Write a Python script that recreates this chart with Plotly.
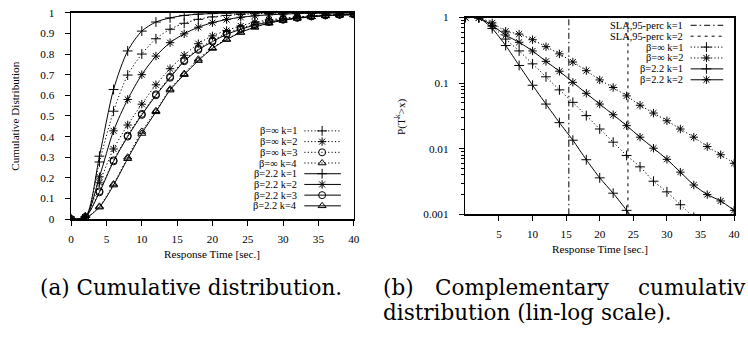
import plotly.graph_objects as go

# Window / figure size (the page's default body margin is removed below).
OX, OY = 0, 0
WIN_W, WIN_H = 748, 338
W, H = WIN_W - OX, WIN_H - OY

# ---------------- data ----------------
t = [0, 2, 4, 6, 8, 10, 12, 14, 16, 18, 20, 22, 24, 26, 28, 30, 32, 34, 36, 38, 40]

# (a) cumulative distribution
cdf_inf_k1 = [0, 0.01, 0.277, 0.523, 0.698, 0.80, 0.874, 0.92, 0.949, 0.968, 0.98, 0.987, 0.992, 0.995, 0.997, 0.998, 0.999, 0.999, 1.0, 1.0, 1.0]
cdf_inf_k2 = [0, 0.01, 0.176, 0.34, 0.456, 0.557, 0.651, 0.729, 0.794, 0.85, 0.888, 0.914, 0.936, 0.954, 0.965, 0.973, 0.98, 0.985, 0.989, 0.992, 0.994]
cdf_inf_k3 = [0, 0.01, 0.135, 0.285, 0.405, 0.51, 0.605, 0.69, 0.77, 0.825, 0.865, 0.90, 0.925, 0.945, 0.96, 0.97, 0.978, 0.984, 0.988, 0.991, 0.993]
cdf_inf_k4 = [0, 0.005, 0.062, 0.17, 0.30, 0.425, 0.525, 0.63, 0.705, 0.775, 0.83, 0.872, 0.905, 0.93, 0.95, 0.963, 0.973, 0.98, 0.985, 0.988, 0.99]
cdf_b22_k1 = [0, 0.01, 0.305, 0.628, 0.815, 0.911, 0.955, 0.975, 0.987, 0.993, 0.996, 0.998, 0.999, 1.0, 1.0, 1.0, 1.0, 1.0, 1.0, 1.0, 1.0]
cdf_b22_k2 = [0, 0.01, 0.205, 0.428, 0.58, 0.70, 0.79, 0.855, 0.898, 0.93, 0.952, 0.967, 0.978, 0.985, 0.99, 0.993, 0.996, 0.997, 0.998, 0.999, 0.999]
cdf_b22_k3 = [0, 0.01, 0.13, 0.28, 0.40, 0.505, 0.60, 0.685, 0.765, 0.82, 0.86, 0.895, 0.92, 0.94, 0.955, 0.966, 0.975, 0.982, 0.987, 0.99, 0.992]
cdf_b22_k4 = [0, 0.005, 0.058, 0.165, 0.293, 0.415, 0.52, 0.625, 0.70, 0.768, 0.827, 0.87, 0.905, 0.93, 0.95, 0.963, 0.973, 0.98, 0.985, 0.988, 0.99]

# (b) complementary cumulative distribution (log scale)
ccdf_inf_k1 = [1.0, 0.99, 0.74, 0.47, 0.31, 0.197, 0.125, 0.079, 0.051, 0.032, 0.020, 0.0126, 0.0079, 0.0053, 0.0032, 0.0022, 0.0014, 0.0009]
ccdf_inf_k2 = [1.0, 0.99, 0.83, 0.62, 0.56, 0.46, 0.36, 0.28, 0.21, 0.155, 0.112, 0.086, 0.064, 0.046, 0.035, 0.0267, 0.020, 0.015, 0.0108, 0.0081, 0.006]
ccdf_b22_k1 = [1.0, 0.99, 0.68, 0.375, 0.186, 0.093, 0.048, 0.025, 0.0135, 0.0068, 0.0036, 0.0021, 0.00115, 0.0006]
ccdf_b22_k2 = [1.0, 0.99, 0.76, 0.54, 0.42, 0.31, 0.215, 0.152, 0.103, 0.070, 0.048, 0.033, 0.0225, 0.015, 0.0102, 0.0069, 0.0044, 0.0028, 0.0020, 0.0016, 0.00115]

sla_k1 = 15.4
sla_k2 = 24.2

left_xticks = [0, 5, 10, 15, 20, 25, 30, 35, 40]
left_yticks = [0, 0.1, 0.2, 0.3, 0.4, 0.5, 0.6, 0.7, 0.8, 0.9, 1]
left_yticktext = ["0", "0.1", "0.2", "0.3", "0.4", "0.5", "0.6", "0.7", "0.8", "0.9", "1"]
right_xticks = [5, 10, 15, 20, 25, 30, 35, 40]
right_yticks = [0.001, 0.01, 0.1, 1]
right_yticktext = ["0.001", "0.01", "0.1", "1"]

# ---------------- styling ----------------
SERIF = "Liberation Serif"
CAP = "DejaVu Serif"
FS = 11.2
KFS = 10.4
CFS = 21.5
DOT = "1.2px,2.2px"
SYM = {"+": "cross-thin-open", "*": "asterisk-open", "o": "circle-open", "^": "triangle-up-open"}

left_series = [
    ("β=∞ k=1", cdf_inf_k1, DOT, "+"),
    ("β=∞ k=2", cdf_inf_k2, DOT, "*"),
    ("β=∞ k=3", cdf_inf_k3, DOT, "o"),
    ("β=∞ k=4", cdf_inf_k4, DOT, "^"),
    ("β=2.2 k=1", cdf_b22_k1, "solid", "+"),
    ("β=2.2 k=2", cdf_b22_k2, "solid", "*"),
    ("β=2.2 k=3", cdf_b22_k3, "solid", "o"),
    ("β=2.2 k=4", cdf_b22_k4, "solid", "^"),
]
right_series = [
    ("β=∞ k=1", ccdf_inf_k1, DOT, "+"),
    ("β=∞ k=2", ccdf_inf_k2, DOT, "*"),
    ("β=2.2 k=1", ccdf_b22_k1, "solid", "+"),
    ("β=2.2 k=2", ccdf_b22_k2, "solid", "*"),
]
SLA1_DASH = "6px,3px,1.5px,3px"
SLA2_DASH = "3px,4px"


def clamp(v):
    return min(1.0, max(0.0, v))


def px(x):
    return (x - OX) / W


def py(y):
    return 1 - (y - OY) / H


def mk(sym):
    return dict(symbol=SYM[sym], size=7, color="black", line=dict(width=1, color="black"))


fig = go.Figure()

for name, vals, dash, sym in left_series:
    fig.add_trace(go.Scatter(
        x=t[:len(vals)], y=vals, mode="lines+markers", name=name,
        line=dict(color="black", width=1, dash=dash, shape="spline", smoothing=0.8),
        marker=mk(sym), xaxis="x", yaxis="y", showlegend=False))

fig.add_trace(go.Scatter(x=[sla_k1, sla_k1], y=[0.001, 1], mode="lines",
                         line=dict(color="black", width=1, dash=SLA1_DASH),
                         xaxis="x2", yaxis="y2", showlegend=False))
fig.add_trace(go.Scatter(x=[sla_k2, sla_k2], y=[0.001, 1], mode="lines",
                         line=dict(color="black", width=1, dash=SLA2_DASH),
                         xaxis="x2", yaxis="y2", showlegend=False))

for name, vals, dash, sym in right_series:
    fig.add_trace(go.Scatter(
        x=t[:len(vals)], y=vals, mode="lines+markers", name=name,
        line=dict(color="black", width=1, dash=dash, shape="spline", smoothing=0.6),
        marker=mk(sym), xaxis="x2", yaxis="y2", showlegend=False))

# ---------------- hand-drawn keys (gnuplot style: text, then sample) ----------------
annotations = []


def key_entry(text, ycen, xtext, x0, x1, xm, dash, sym):
    fig.add_trace(go.Scatter(x=[x0, x1], y=[ycen, ycen], mode="lines",
                             line=dict(color="black", width=1, dash=dash),
                             xaxis="x3", yaxis="y3", showlegend=False, hoverinfo="skip"))
    if sym is not None:
        fig.add_trace(go.Scatter(x=[xm], y=[ycen], mode="markers", marker=mk(sym),
                                 xaxis="x3", yaxis="y3", showlegend=False, hoverinfo="skip"))
    annotations.append(dict(text=text, x=px(xtext), y=py(ycen), xref="paper", yref="paper",
                            xanchor="right", yanchor="middle", showarrow=False,
                            font=dict(family=SERIF, size=KFS, color="black")))


for i, (name, vals, dash, sym) in enumerate(left_series):
    key_entry(name, 129.5 + i * 11.1, 300, 305, 342, 323, dash, sym)

right_keys = [("SLA,95-perc k=1", SLA1_DASH, None), ("SLA,95-perc k=2", SLA2_DASH, None)] + \
             [(n, d, s) for n, v, d, s in right_series]
for i, (name, dash, sym) in enumerate(right_keys):
    key_entry(name, 20 + i * 11.3, 690, 696, 729, 712, dash, sym)


def label(text, x, y, size=FS, family=SERIF, angle=0, xanchor="center"):
    annotations.append(dict(text=text, x=px(x), y=py(y), xref="paper", yref="paper",
                            xanchor=xanchor, yanchor="middle", showarrow=False, textangle=angle,
                            font=dict(family=family, size=size, color="black")))


label("Cumulative Distribution", 12, 114, angle=-90)
label("Response Time [sec.]", 212, 257)
label("P(T<sup>k</sup>&gt;x)", 403, 115, angle=-90)
label("Response Time [sec.]", 604, 252)

label("(a) Cumulative distribution.", 190, 292, size=CFS, family=CAP)
label("(b)", 383, 292, size=CFS, family=CAP, xanchor="left")
label("Complementary", 435, 292, size=CFS, family=CAP, xanchor="left")
label("cumulativ", 641, 292, size=CFS, family=CAP, xanchor="left")
label("distribution (lin-log scale).", 383, 318, size=CFS, family=CAP, xanchor="left")

axis_common = dict(showline=True, linecolor="black", linewidth=1.6, mirror=True,
                   ticks="outside", ticklen=5, tickwidth=1, tickcolor="black",
                   showgrid=False, zeroline=False,
                   tickfont=dict(family=SERIF, size=FS, color="black"))

minor_log = [m * d for d in (0.001, 0.01, 0.1) for m in (2, 3, 4, 5, 6, 7, 8, 9)]

fig.update_layout(
    width=W, height=H, margin=dict(l=0, r=0, t=0, b=0),
    paper_bgcolor="white", plot_bgcolor="rgba(0,0,0,0)",
    showlegend=False,
    xaxis=dict(domain=[clamp(px(69)), clamp(px(355))], range=[0, 40], tickvals=left_xticks,
               anchor="y", ticklabelstandoff=4, **axis_common),
    yaxis=dict(domain=[clamp(py(221)), clamp(py(7))], range=[0, 1], tickvals=left_yticks,
               ticktext=left_yticktext, anchor="x", ticklabelstandoff=8, **axis_common),
    xaxis2=dict(domain=[clamp(px(468)), clamp(px(740))], range=[0, 40], tickvals=right_xticks,
                anchor="y2", ticklabelstandoff=4, **axis_common),
    yaxis2=dict(domain=[clamp(py(216)), clamp(py(12))], type="log", range=[-3, 0],
                tickvals=right_yticks, ticktext=right_yticktext, anchor="x2", ticklabelstandoff=8,
                minor=dict(ticks="outside", ticklen=3, tickvals=minor_log, tickcolor="black"),
                **axis_common),
    xaxis3=dict(domain=[0, 1], range=[OX, WIN_W], visible=False, anchor="y3", fixedrange=True),
    yaxis3=dict(domain=[0, 1], range=[WIN_H, OY], visible=False, anchor="x3", fixedrange=True),
    annotations=annotations,
)

fig.write_html("out.html",
               config={"displayModeBar": False, "staticPlot": True},
               post_script="document.body.style.margin='0px';document.body.style.overflow='hidden';")
